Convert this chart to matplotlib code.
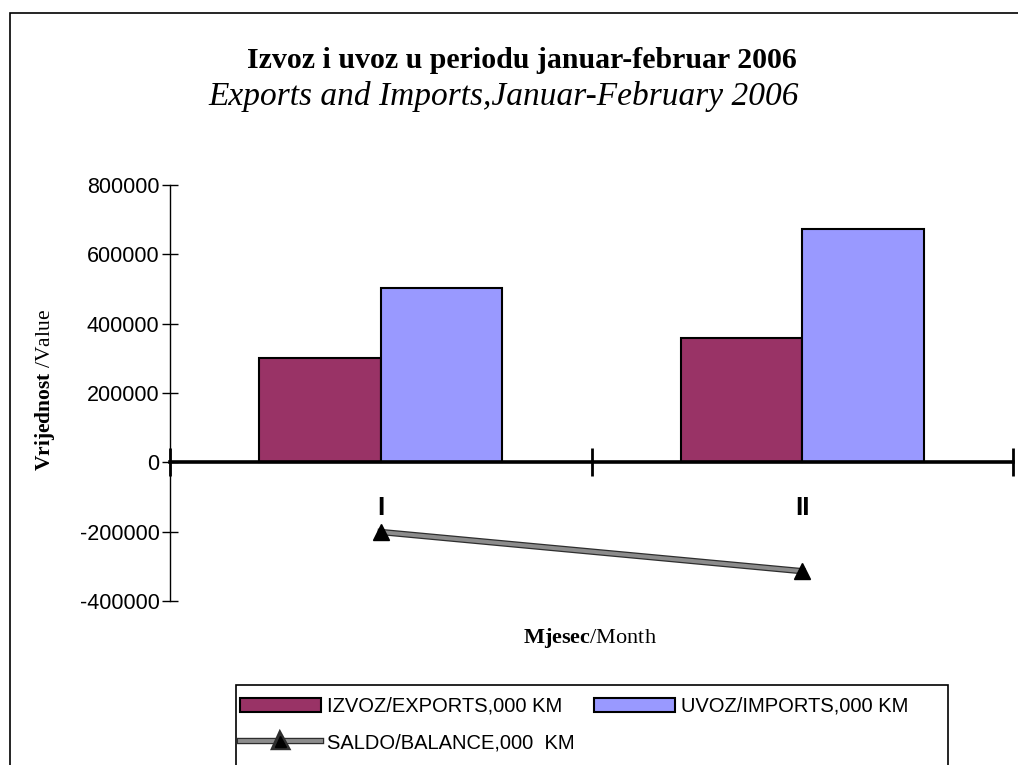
import matplotlib
matplotlib.use("Agg")
import matplotlib.pyplot as plt
import numpy as np
from matplotlib.patches import Patch, Rectangle
from matplotlib.lines import Line2D
import matplotlib.patheffects as pe

plt.rcParams['mathtext.fontset'] = 'custom'
plt.rcParams['mathtext.rm'] = 'Liberation Serif'
plt.rcParams['mathtext.bf'] = 'Liberation Serif:bold'

categories = ["I", "II"]
exports = [301000, 360000]
imports = [502000, 674000]
balance = [-201000, -314000]
yticks = [-400000, -200000, 0, 200000, 400000, 600000, 800000]

title = "Izvoz i uvoz u periodu januar-februar 2006"
subtitle = "Exports and Imports,Januar-February 2006"
lbl_exp = "IZVOZ/EXPORTS,000 KM"
lbl_imp = "UVOZ/IMPORTS,000 KM"
lbl_bal = "SALDO/BALANCE,000  KM"

W, H = 1018, 765
fig = plt.figure(figsize=(W / 100, H / 100), dpi=100)
fig.patch.set_facecolor('white')

# outer chart frame
fig.add_artist(Rectangle((10 / W, -0.05), 1.1, 1 - 13 / H + 0.05, transform=fig.transFigure,
                         fill=False, edgecolor='black', linewidth=1.2))

ax = fig.add_axes([170 / W, 1 - 601 / H, (1013 - 170) / W, (601 - 185) / H])
x = np.arange(len(categories))
bw = 0.288
c_exp = '#993366'
c_imp = '#9999FF'
ax.bar(x - bw / 2, exports, bw, color=c_exp, edgecolor='black', linewidth=1.5, zorder=2)
ax.bar(x + bw / 2, imports, bw, color=c_imp, edgecolor='black', linewidth=1.5, zorder=2)

bal_pe = [pe.Stroke(linewidth=4.6, foreground='#2e2e2e'), pe.Normal()]
ax.plot(x, balance, color='#8c8c8c', linewidth=2.8, path_effects=bal_pe, zorder=3)
ax.plot(x, balance, linestyle='none', marker='^', markersize=11, color='black', zorder=4)

ax.set_xlim(-0.5, len(categories) - 0.5)
ax.set_ylim(-400000, 800000)
ax.set_yticks(yticks)
ax.set_yticklabels([str(v) for v in yticks], fontfamily='Liberation Sans', fontsize=15.5)
ax.tick_params(axis='y', direction='inout', length=11, width=1, pad=2)

for s in ['top', 'right']:
    ax.spines[s].set_visible(False)
ax.spines['left'].set_linewidth(1)
ax.spines['bottom'].set_position(('data', 0))
ax.spines['bottom'].set_linewidth(2.6)
ax.spines['bottom'].set_zorder(5)

ax.set_xticks(np.arange(len(categories) + 1) - 0.5)
ax.set_xticklabels([])
ax.tick_params(axis='x', which='major', direction='inout', length=20, width=2)
ax.set_xticks(x, minor=True)
ax.set_xticklabels(categories, minor=True, fontfamily='Liberation Sans',
                   fontweight='bold', fontsize=19)
ax.tick_params(axis='x', which='minor', length=0, pad=24)

# titles
fig.text(522 / W, 1 - 61 / H, title, ha='center', va='center',
         fontfamily='Liberation Serif', fontweight='bold', fontsize=21.5)
fig.text(504 / W, 1 - 97 / H, subtitle, ha='center', va='center',
         fontfamily='Liberation Serif', fontstyle='italic', fontsize=24)

# axis labels
fig.text(45 / W, 1 - 390 / H, r"$\mathbf{Vrijednost}$ /Value", rotation=90,
         ha='center', va='center', fontfamily='Liberation Serif', fontsize=15.5)
fig.text(590 / W, 1 - 638 / H, r"$\mathbf{Mjesec}$/Month", ha='center', va='center',
         fontfamily='Liberation Serif', fontsize=16)

# legend frame (extends past the bottom edge like the original)
fig.add_artist(Rectangle((236 / W, -0.05), (948 - 236) / W, 1 - 685 / H + 0.05,
                         transform=fig.transFigure, facecolor='white',
                         edgecolor='black', linewidth=1.2, zorder=1))

h_exp = Patch(facecolor=c_exp, edgecolor='black', linewidth=1.5)
h_imp = Patch(facecolor=c_imp, edgecolor='black', linewidth=1.5)
h_bal = Line2D([], [], color='#8c8c8c', linewidth=2.8, path_effects=bal_pe,
               marker='^', markersize=8, markerfacecolor='black', markeredgecolor='black')
leg = fig.legend([h_exp, h_bal, h_imp], [lbl_exp, lbl_bal, lbl_imp], ncol=2,
                 loc='upper left', bbox_to_anchor=(240 / W, 1 - 697 / H),
                 frameon=False,
                 prop={'family': 'Liberation Sans', 'size': 14.5},
                 handlelength=4.0, handleheight=0.65, handletextpad=0.3,
                 columnspacing=1.0, labelspacing=0.85, borderpad=0, borderaxespad=0)
leg.set_zorder(2)

fig.savefig("out.png", dpi=100)
